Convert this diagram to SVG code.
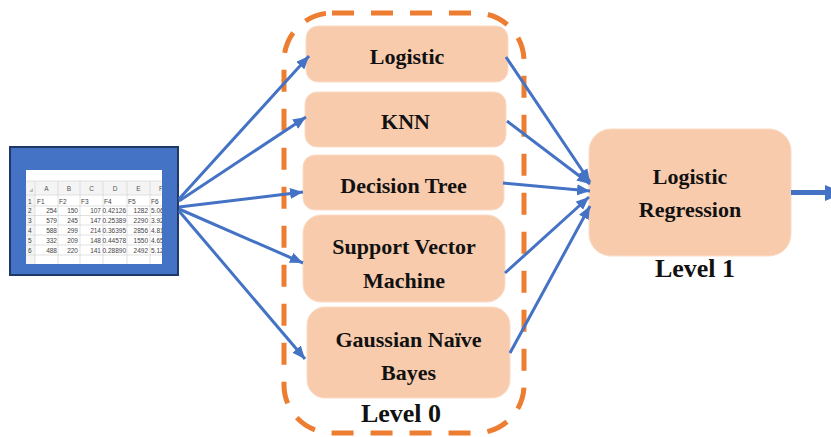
<svg xmlns="http://www.w3.org/2000/svg" width="831" height="437" viewBox="0 0 831 437">
  <style>
    .node { fill: #F8CBAD; stroke: #FBDCC6; stroke-width: 1; }
    .lbl { font-family: "Liberation Serif", "Times New Roman", serif; font-weight: bold; font-size: 22px; fill: #111; text-anchor: middle; }
    .lvl { font-family: "Liberation Serif", "Times New Roman", serif; font-weight: bold; font-size: 26px; fill: #111; text-anchor: middle; }
    .edge { stroke: #4472C4; stroke-width: 3; fill: none; marker-end: url(#arrow); }
    .grid { stroke: #D4D4D4; stroke-width: 0.7; }
    .cell { font-family: "Liberation Sans", Arial, sans-serif; font-size: 6.5px; fill: #444; }
    .num { text-anchor: end; }
    .hdr { text-anchor: middle; fill: #555; }
  </style>
  <defs>
    <marker id="arrow" markerUnits="userSpaceOnUse" markerWidth="14" markerHeight="12" refX="13" refY="5.5" orient="auto">
      <path d="M0,0 L13,5.5 L0,11 z" fill="#4472C4"/>
    </marker>
    <clipPath id="sheetClip">
      <rect x="26" y="170" width="136" height="94"/>
    </clipPath>
  </defs>

  <rect width="831" height="437" fill="#FFFFFF"/>

  <!-- data table -->
  <g id="dataset">
    <rect x="10" y="147" width="168" height="128" fill="#4472C4" stroke="#1F3864" stroke-width="2"/>
    <rect x="26" y="170" width="136" height="94" fill="#FFFFFF"/>
    <g clip-path="url(#sheetClip)">
      <rect x="26" y="181" width="136" height="14" fill="#F4F4F4"/>
      <rect x="26" y="181" width="9" height="83" fill="#F4F4F4"/>
      <g class="grid">
        <line x1="26" y1="181" x2="162" y2="181"/>
        <line x1="26" y1="195" x2="162" y2="195"/>
        <line x1="26" y1="206" x2="162" y2="206"/>
        <line x1="26" y1="215.5" x2="162" y2="215.5"/>
        <line x1="26" y1="225" x2="162" y2="225"/>
        <line x1="26" y1="235" x2="162" y2="235"/>
        <line x1="26" y1="245" x2="162" y2="245"/>
        <line x1="26" y1="255" x2="162" y2="255"/>
        <line x1="35" y1="181" x2="35" y2="264"/>
        <line x1="58" y1="181" x2="58" y2="264"/>
        <line x1="80" y1="181" x2="80" y2="264"/>
        <line x1="103" y1="181" x2="103" y2="264"/>
        <line x1="127" y1="181" x2="127" y2="264"/>
        <line x1="150" y1="181" x2="150" y2="264"/>
      </g>
      <path d="M29,192 L33,188 L33,192 z" fill="#BBBBBB"/>
      <g class="cell hdr">
        <text x="46.5" y="191">A</text>
        <text x="69" y="191">B</text>
        <text x="91.5" y="191">C</text>
        <text x="115" y="191">D</text>
        <text x="138.5" y="191">E</text>
        <text x="161" y="191">F</text>
      </g>
      <g class="cell">
        <text x="28" y="203.5">1</text>
        <text x="28" y="213">2</text>
        <text x="28" y="222.5">3</text>
        <text x="28" y="232.5">4</text>
        <text x="28" y="242.5">5</text>
        <text x="28" y="252.5">6</text>
        <text x="37" y="203.5">F1</text>
        <text x="59" y="203.5">F2</text>
        <text x="81" y="203.5">F3</text>
        <text x="104" y="203.5">F4</text>
        <text x="128" y="203.5">F5</text>
        <text x="151" y="203.5">F6</text>
        <text x="151" y="213">5.06</text>
        <text x="151" y="222.5">3.92</text>
        <text x="151" y="232.5">4.81</text>
        <text x="151" y="242.5">4.65</text>
        <text x="151" y="252.5">5.12</text>
      </g>
      <g class="cell num">
        <text x="57" y="213">254</text><text x="78" y="213">150</text><text x="101" y="213">107</text><text x="126" y="213">0.42126</text><text x="148" y="213">1282</text>
        <text x="57" y="222.5">579</text><text x="78" y="222.5">245</text><text x="101" y="222.5">147</text><text x="126" y="222.5">0.25389</text><text x="148" y="222.5">2290</text>
        <text x="57" y="232.5">588</text><text x="78" y="232.5">299</text><text x="101" y="232.5">214</text><text x="126" y="232.5">0.36395</text><text x="148" y="232.5">2856</text>
        <text x="57" y="242.5">332</text><text x="78" y="242.5">209</text><text x="101" y="242.5">148</text><text x="126" y="242.5">0.44578</text><text x="148" y="242.5">1550</text>
        <text x="57" y="252.5">488</text><text x="78" y="252.5">220</text><text x="101" y="252.5">141</text><text x="126" y="252.5">0.28890</text><text x="148" y="252.5">2492</text>
      </g>
    </g>
  </g>

  <!-- level 0 container -->
  <g id="level0">
    <rect x="284" y="13" width="240" height="420" rx="48" ry="48" fill="none" stroke="#ED7D31" stroke-width="5" stroke-dasharray="22 17"/>
    <text class="lvl" x="401" y="422">Level 0</text>
  </g>

  <g id="logistic">
    <rect class="node" x="306" y="26" width="202" height="56" rx="12"/>
    <text class="lbl" x="407" y="64">Logistic</text>
  </g>
  <g id="knn">
    <rect class="node" x="305" y="92" width="201" height="55" rx="12"/>
    <text class="lbl" x="405.5" y="129">KNN</text>
  </g>
  <g id="decision-tree">
    <rect class="node" x="303" y="155" width="201" height="55" rx="12"/>
    <text class="lbl" x="403.5" y="193">Decision Tree</text>
  </g>
  <g id="svm">
    <rect class="node" x="303" y="215" width="202" height="87" rx="18"/>
    <text class="lbl" x="404" y="254">Support Vector</text>
    <text class="lbl" x="404" y="288">Machine</text>
  </g>
  <g id="gaussian-nb">
    <rect class="node" x="307" y="307" width="203" height="91" rx="18"/>
    <text class="lbl" x="408.5" y="347">Gaussian Naïve</text>
    <text class="lbl" x="408.5" y="380">Bayes</text>
  </g>

  <g id="meta-learner">
    <rect class="node" x="589" y="129" width="202" height="127" rx="22"/>
    <text class="lbl" x="690" y="184">Logistic</text>
    <text class="lbl" x="690" y="217">Regression</text>
    <text class="lvl" x="695" y="277">Level 1</text>
  </g>

  <g id="connectors">
    <line class="edge" x1="179" y1="199" x2="309" y2="56"/>
    <line class="edge" x1="179" y1="201" x2="306" y2="117"/>
    <line class="edge" x1="179" y1="207" x2="303" y2="192"/>
    <line class="edge" x1="179" y1="209" x2="303" y2="263"/>
    <line class="edge" x1="179" y1="211" x2="305" y2="359"/>
    <line class="edge" x1="506" y1="57" x2="590" y2="182"/>
    <line class="edge" x1="507" y1="121" x2="590" y2="184"/>
    <line class="edge" x1="503" y1="183" x2="590" y2="191"/>
    <line class="edge" x1="505" y1="273" x2="589" y2="197"/>
    <line class="edge" x1="510" y1="353" x2="590" y2="206"/>
    <line x1="791" y1="192.5" x2="826" y2="192.5" stroke="#4472C4" stroke-width="5"/>
    <path d="M825,185 L845,193 L825,201 z" fill="#4472C4"/>
  </g>
</svg>
